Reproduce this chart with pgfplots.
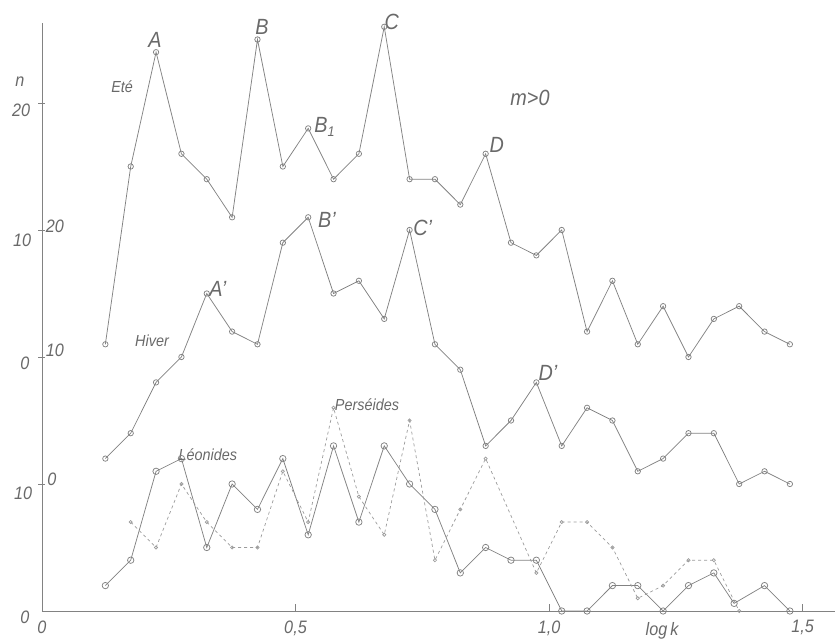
\documentclass[border=0pt]{standalone}
\usepackage{pgfplots}
\usepackage{pgfplotstable}
\pgfplotsset{compat=1.18}
\usepackage{fontspec}
\setmainfont{Liberation Sans}[FakeStretch=0.9]
\definecolor{ink}{RGB}{130,130,130}
\definecolor{inkl}{RGB}{155,155,155}
\definecolor{txt}{RGB}{105,105,105}
\tikzset{
  lbl/.style={font=\fontsize{16}{16}\selectfont\itshape, text=txt, inner sep=0pt},
  big/.style={font=\fontsize{22}{22}\selectfont\itshape, text=txt, inner sep=0pt},
  tl/.style={font=\fontsize{18}{18}\selectfont\itshape, text=txt, inner sep=0pt},
  ser/.style={draw=ink, line width=0.75pt, mark=o, mark size=2.7pt, mark options={solid, fill=white, line width=0.75pt}},
}

% Ete (plotted with offset +20)
\pgfplotstableread{
x n
0.125 1
0.175 15
0.225 24
0.275 16
0.325 14
0.375 11
0.425 25
0.475 15
0.525 18
0.575 14
0.625 16
0.675 26
0.725 14
0.775 14
0.825 12
0.875 16
0.925 9
0.975 8
1.025 10
1.075 2
1.125 6
1.175 1
1.225 4
1.275 0
1.325 3
1.375 4
1.425 2
1.475 1
}\ete

% Hiver (plotted with offset +10)
\pgfplotstableread{
x n
0.125 2
0.175 4
0.225 8
0.275 10
0.325 15
0.375 12
0.425 11
0.475 19
0.525 21
0.575 15
0.625 16
0.675 13
0.725 20
0.775 11
0.825 9
0.875 3
0.925 5
0.975 8
1.025 3
1.075 6
1.125 5
1.175 1
1.225 2
1.275 4
1.325 4
1.375 0
1.425 1
1.475 0
}\hiver

% Leonides
\pgfplotstableread{
x n
0.125 2
0.175 4
0.225 11
0.275 12
0.325 5
0.375 10
0.425 8
0.475 12
0.525 6
0.575 13
0.625 7
0.675 13
0.725 10
0.775 8
0.825 3
0.875 5
0.925 4
0.975 4
1.025 0
1.075 0
1.125 2
1.175 2
1.225 0
1.275 2
1.325 3
1.365 0.6
1.425 2
1.475 0
}\leon

% Perseides
\pgfplotstableread{
x n
0.175 7
0.225 5
0.275 10
0.325 7
0.375 5
0.425 5
0.475 11
0.525 7
0.575 16
0.625 9
0.675 6
0.725 15
0.775 4
0.825 8
0.875 12
0.975 3
1.025 7
1.075 7
1.125 5
1.175 1
1.225 2
1.275 4
1.325 4
1.375 0
}\pers

\begin{document}
\begin{tikzpicture}
\begin{axis}[
  scale only axis,
  width=793pt, height=588pt,
  xmin=0, xmax=1.564, ymin=0, ymax=46.3,
  axis x line=bottom, axis y line=left,
  axis line style={ink, line width=0.9pt, -},
  clip=false,
  xtick={0,0.5,1,1.5}, xticklabels={0,{0,5},{1,0},{1,5}},
  ytick={10,20,30,40}, yticklabels={},
  tick style={ink, line width=0.7pt},
  xtick align=inside, ytick align=center,
  major tick length=7pt,
  xticklabel style={font=\fontsize{18}{18}\selectfont\itshape, text=txt, yshift=-6pt},
]
\addplot[ser] table[x=x, y expr=\thisrow{n}+20] {\ete};
\addplot[ser] table[x=x, y expr=\thisrow{n}+10] {\hiver};
\addplot[ser, mark size=3.2pt] table[x=x, y=n] {\leon};
\addplot[draw=inkl, line width=0.7pt, dash pattern=on 3pt off 3pt, mark=o, mark size=1.6pt, mark options={solid, fill=white, line width=0.7pt}] table[x=x, y=n] {\pers};

% y tick labels (three offset scales)
\node[tl] at (axis cs:-0.0335,-0.5) {0};
\node[tl] at (axis cs:-0.037,9.3) {10};
\node[tl] at (axis cs:-0.0335,19.5) {0};
\node[tl] at (axis cs:-0.039,29.2) {10};
\node[tl] at (axis cs:-0.041,39.4) {20};
\node[tl] at (axis cs:0.0197,10.4) {0};
\node[tl] at (axis cs:0.0256,20.5) {10};
\node[tl] at (axis cs:0.0256,30.3) {20};
\node[tl] at (axis cs:-0.0434,41.7) {n};
\node[tl] at (axis cs:1.223,-1.6) {log\,k};

% curve annotations
\node[lbl] at (axis cs:0.158,41.26) {Eté};
\node[lbl] at (axis cs:0.217,21.26) {Hiver};
\node[lbl] at (axis cs:0.641,16.22) {Perséides};
\node[lbl] at (axis cs:0.327,12.28) {Léonides};
\node[big] at (axis cs:0.223,44.96) {A};
\node[big] at (axis cs:0.434,45.98) {B};
\node[big] at (axis cs:0.557,38.1) {B\raisebox{-4pt}{\fontsize{14}{14}\selectfont 1}};
\node[big] at (axis cs:0.690,46.4) {C};
\node[big] at (axis cs:0.897,36.7) {D};
\node[big] at (axis cs:0.9625,40.4) {m>0};
\node[big] at (axis cs:0.347,25.35) {A'};
\node[big] at (axis cs:0.562,30.8) {B'};
\node[big] at (axis cs:0.751,30.2) {C'};
\node[big] at (axis cs:0.998,18.74) {D'};

\coordinate (BL) at (axis cs:-0.0828,-2.36);
\coordinate (TR) at (axis cs:1.564,48.11);
\end{axis}
\pgfresetboundingbox
\path (BL) rectangle (TR);
\end{tikzpicture}
\end{document}
